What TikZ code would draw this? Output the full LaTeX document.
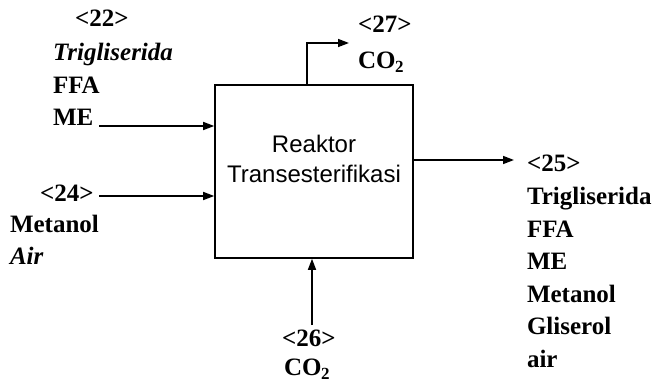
\documentclass[tikz,border=0pt]{standalone}
\usepackage{fontspec}
\setmainfont{Liberation Serif}
\setsansfont{Liberation Sans}
\usetikzlibrary{arrows.meta}
\tikzset{
  lbl/.style={inner sep=0pt, outer sep=0pt, anchor=base west,
    font=\fontsize{25}{30}\selectfont\bfseries},
  boxtxt/.style={inner sep=0pt, anchor=base, font=\fontsize{24}{30}\selectfont\sffamily},
  flow/.style={line width=1.5pt, -{Triangle[length=11pt,width=8pt]}},
}
\newcommand{\cotwo}{CO\kern-0.5pt\raisebox{-4pt}{\fontsize{17}{17}\selectfont 2}}
\begin{document}
\begin{tikzpicture}[x=1pt,y=-1pt]
\useasboundingbox (0,0) rectangle (661,382);
% reactor box
\node[draw, line width=1.6pt, minimum width=198pt, minimum height=173pt, inner sep=0pt] (R) at (314,171.5) {};
\node[boxtxt] (Rt1) at (314,153) {Reaktor};
\node[boxtxt] (Rt2) at (314,183) {Transesterifikasi};
% stream 22
\node[lbl] (a1) at (75,27) {<22>};
\node[lbl] (a2) at (53,61) {\textit{Trigliserida}};
\node[lbl] (a3) at (53,94) {FFA};
\node[lbl] (a4) at (53,126) {ME};
\coordinate (i22) at (99,126);
\draw[flow] (i22) -- (R.west |- i22);
% stream 24
\node[lbl] (b1) at (40,201) {<24>};
\node[lbl] (b2) at (10,233) {Metanol};
\node[lbl] (b3) at (10,264) {\textit{Air}};
\coordinate (i24) at (99,196);
\draw[flow] (i24) -- (R.west |- i24);
% stream 27
\coordinate (t27) at (307,43);
\coordinate (e27) at (349,43);
\draw[flow] (R.north -| t27) -- (t27) -- (e27);
\node[lbl] (c1) at (358,33) {<27>};
\node[lbl] (c2) at (358,69) {\cotwo};
% stream 25
\coordinate (e25) at (514,160);
\draw[flow] (R.east |- e25) -- (e25);
\node[lbl] (d1) at (527,172) {<25>};
\node[lbl] (d2) at (527,204.5) {Trigliserida};
\node[lbl] (d3) at (527,237) {FFA};
\node[lbl] (d4) at (527,269.5) {ME};
\node[lbl] (d5) at (527,302) {Metanol};
\node[lbl] (d6) at (527,334.5) {Gliserol};
\node[lbl] (d7) at (527,367) {air};
% stream 26
\coordinate (b26) at (312,325);
\draw[flow] (b26) -- (R.south -| b26);
\node[lbl] (e1) at (282,346) {<26>};
\node[lbl] (e2) at (284,375) {\cotwo};
\end{tikzpicture}
\end{document}
